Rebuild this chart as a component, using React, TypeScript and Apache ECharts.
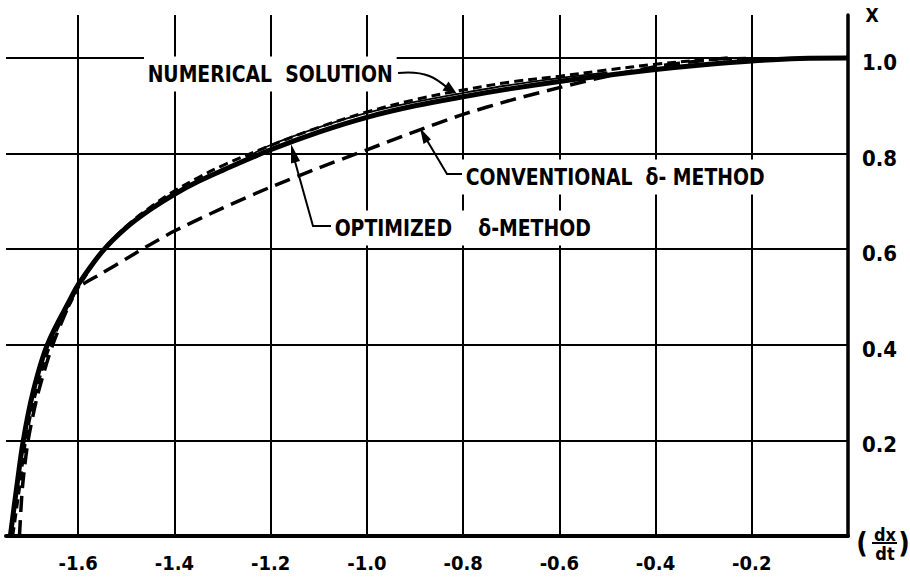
import React, { useEffect, useRef } from "react";
import * as echarts from "echarts";

// ---- data ----
const xTickValues = [-1.6, -1.4, -1.2, -1.0, -0.8, -0.6, -0.4, -0.2];
const yTickValues = [0.2, 0.4, 0.6, 0.8, 1.0];

// Optimized delta-method (thick solid)
const optimizedX = [-1.741, -1.728, -1.714, -1.694, -1.664, -1.614, -1.6, -1.55, -1.5, -1.45, -1.4, -1.35, -1.3, -1.2, -1.1, -1.0, -0.9, -0.8, -0.7, -0.6, -0.5, -0.4, -0.3, -0.2, -0.1, 0];
const optimizedY = [0, 0.1, 0.2, 0.3, 0.4, 0.5, 0.526, 0.595, 0.645, 0.683, 0.715, 0.742, 0.765, 0.808, 0.845, 0.876, 0.9, 0.919, 0.936, 0.951, 0.964, 0.976, 0.986, 0.994, 0.999, 1.0];

// thin solid companion drawn just above the optimized curve
const optimizedUpperX = [-1.25, -1.2, -1.1, -1.0, -0.9, -0.8, -0.7, -0.6, -0.5];
const optimizedUpperY = [0.792, 0.818, 0.855, 0.885, 0.908, 0.927, 0.944, 0.958, 0.97];

// Numerical solution (short dashes)
const numericalX = [-1.736, -1.722, -1.709, -1.688, -1.658, -1.61, -1.596, -1.55, -1.5, -1.45, -1.4, -1.35, -1.3, -1.2, -1.1, -1.0, -0.9, -0.8, -0.7, -0.6, -0.5, -0.4, -0.3, -0.2];
const numericalY = [0, 0.1, 0.2, 0.3, 0.4, 0.5, 0.526, 0.595, 0.648, 0.688, 0.722, 0.75, 0.775, 0.817, 0.855, 0.887, 0.913, 0.933, 0.95, 0.962, 0.975, 0.987, 0.996, 1.0];

// Conventional delta-method (long dashes)
const conventionalX = [-1.722, -1.716, -1.704, -1.683, -1.653, -1.612, -1.6, -1.55, -1.5, -1.45, -1.4, -1.3, -1.2, -1.1, -1.0, -0.9, -0.8, -0.7, -0.6, -0.5, -0.4, -0.3, -0.25];
const conventionalY = [0, 0.1, 0.2, 0.3, 0.4, 0.5, 0.52, 0.55, 0.58, 0.61, 0.638, 0.686, 0.73, 0.77, 0.808, 0.846, 0.882, 0.912, 0.938, 0.962, 0.982, 0.995, 1.0];

const NUM_FONT = '"DejaVu Sans Condensed", "DejaVu Sans", sans-serif';
const TXT_FONT = '"DejaVu Sans Condensed", "DejaVu Sans", sans-serif';

const zip = (xs: number[], ys: number[]) => xs.map((x, i) => [x, ys[i]]);

export default function App() {
  const ref = useRef<HTMLDivElement>(null);

  useEffect(() => {
    document.body.style.margin = "0";
    const chart = echarts.init(ref.current!, null, { renderer: "svg" });

    const label = (text: string, x: number, y: number) => ({
      type: "text",
      z: 101,
      x,
      y,
      scaleX: 0.91,
      style: {
        text,
        fontSize: 23,
        fontWeight: "bold",
        fontFamily: TXT_FONT,
        fill: "#000",
        backgroundColor: "#fff",
        padding: [6, 4],
        align: "left",
        verticalAlign: "middle",
      },
    });

    const numText = (text: string, x: number, y: number, size: number) => ({
      type: "text",
      z: 101,
      x,
      y,
      style: {
        text,
        fontSize: size,
        fontWeight: "bold",
        fontFamily: NUM_FONT,
        fill: "#000",
        align: "center",
        verticalAlign: "middle",
      },
    });

    const option: any = {
      animation: false,
      backgroundColor: "#fff",
      grid: { left: 6, right: 62, top: 15, bottom: 41 },
      xAxis: {
        type: "value",
        min: -1.75,
        max: 0,
        axisLine: { show: true, onZero: false, lineStyle: { color: "#000", width: 4 } },
        axisTick: { show: false },
        splitLine: { show: false },
        axisLabel: {
          customValues: xTickValues,
          formatter: (v: number) => v.toFixed(1),
          color: "#000",
          fontSize: 20,
          fontWeight: "bold",
          fontFamily: NUM_FONT,
          margin: 17,
        },
      },
      yAxis: {
        type: "value",
        position: "right",
        min: 0,
        max: 1.09,
        axisLine: { show: true, onZero: false, lineStyle: { color: "#000", width: 3.5 } },
        axisTick: { show: false },
        splitLine: { show: false },
        axisLabel: {
          customValues: yTickValues,
          formatter: (v: number) => "{s| }\n{v|" + v.toFixed(1) + "}",
          margin: 14,
          rich: {
            s: { fontSize: 4, lineHeight: 9 },
            v: {
              fontSize: 22,
              lineHeight: 26,
              fontWeight: "bold",
              fontFamily: NUM_FONT,
              color: "#000",
            },
          },
        },
      },
      series: [
        {
          name: "grid",
          type: "line",
          data: [[-1.75, 0]],
          symbol: "none",
          lineStyle: { width: 0 },
          z: 1,
          silent: true,
          markLine: {
            silent: true,
            symbol: ["none", "none"],
            label: { show: false },
            lineStyle: { color: "#000", width: 2, type: "solid" },
            data: [
              ...xTickValues.map((v) => ({ xAxis: v })),
              ...yTickValues.map((v) => ({ yAxis: v })),
            ],
          },
        },
        {
          name: "Conventional δ-method",
          type: "line",
          data: zip(conventionalX, conventionalY),
          symbol: "none",
          smooth: 0.25,
          lineStyle: { color: "#000", width: 3.5, type: [16, 8] },
          z: 3,
        },
        {
          name: "Numerical solution",
          type: "line",
          data: zip(numericalX, numericalY),
          symbol: "none",
          smooth: 0.35,
          lineStyle: { color: "#000", width: 3, type: [9, 5] },
          z: 3,
        },
        {
          name: "Optimized δ-method (upper trace)",
          type: "line",
          data: zip(optimizedUpperX, optimizedUpperY),
          symbol: "none",
          smooth: 0.35,
          lineStyle: { color: "#000", width: 1.8 },
          z: 3,
        },
        {
          name: "Optimized δ-method",
          type: "line",
          data: zip(optimizedX, optimizedY),
          symbol: "none",
          smooth: 0.35,
          lineStyle: { color: "#000", width: 5 },
          z: 4,
        },
      ],
      graphic: [
        // annotation leaders
        {
          type: "bezierCurve",
          z: 100,
          shape: { x1: 398, y1: 73, x2: 449, y2: 89, cpx1: 428, cpy1: 70, cpx2: 438, cpy2: 80 },
          style: { stroke: "#000", lineWidth: 2, fill: "none" },
        },
        {
          type: "polygon",
          z: 100,
          shape: { points: [[457, 94], [442.5, 90.5], [448.5, 81.5]] },
          style: { fill: "#000" },
        },
        {
          type: "polyline",
          z: 100,
          shape: { points: [[332, 226], [313, 226], [294, 158]] },
          style: { stroke: "#000", lineWidth: 2, fill: "none" },
        },
        {
          type: "polygon",
          z: 100,
          shape: { points: [[291, 144], [300, 161], [291, 163.5]] },
          style: { fill: "#000" },
        },
        {
          type: "polyline",
          z: 100,
          shape: { points: [[464, 174], [447, 174], [425, 137]] },
          style: { stroke: "#000", lineWidth: 2, fill: "none" },
        },
        {
          type: "polygon",
          z: 100,
          shape: { points: [[420, 128], [431, 139.5], [423.5, 144]] },
          style: { fill: "#000" },
        },
        // annotation texts
        label("NUMERICAL  SOLUTION", 144, 74),
        label("OPTIMIZED    δ-METHOD", 331, 228),
        label("CONVENTIONAL  δ- METHOD", 462, 177),
        // axis names
        numText("X", 872, 15, 19),
        numText("(", 862, 543, 28),
        numText("dx", 885, 534, 18),
        {
          type: "line",
          z: 101,
          shape: { x1: 872, y1: 543, x2: 897, y2: 543 },
          style: { stroke: "#000", lineWidth: 2 },
        },
        numText("dt", 885, 553, 18),
        numText(")", 904, 543, 28),
      ],
    };

    chart.setOption(option);
    return () => chart.dispose();
  }, []);

  return (
    <div
      ref={ref}
      style={{ position: "fixed", left: 0, top: 0, width: 910, height: 577, background: "#fff" }}
    />
  );
}
